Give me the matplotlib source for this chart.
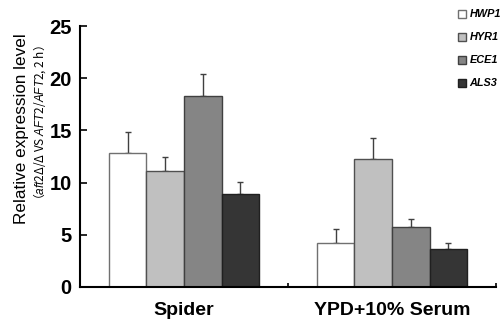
import matplotlib
matplotlib.use("Agg")
import matplotlib.pyplot as plt
import numpy as np

plt.rcParams["font.family"] = ["Liberation Sans", "DejaVu Sans"]
plt.rcParams["mathtext.fontset"] = "custom"
plt.rcParams["mathtext.it"] = "Liberation Sans:italic"
plt.rcParams["mathtext.rm"] = "Noto Sans CJK SC"

conditions = ["Spider", "YPD+10% Serum"]
genes = ["HWP1", "HYR1", "ECE1", "ALS3"]
means = {
    "HWP1": [12.8, 4.2],
    "HYR1": [11.1, 12.25],
    "ECE1": [18.3, 5.75],
    "ALS3": [8.9, 3.65],
}
errs = {
    "HWP1": [2.0, 1.35],
    "HYR1": [1.35, 2.05],
    "ECE1": [2.1, 0.75],
    "ALS3": [1.15, 0.55],
}
colors = {"HWP1": "#ffffff", "HYR1": "#c0c0c0", "ECE1": "#858585", "ALS3": "#353535"}
edges = {"HWP1": "#707070", "HYR1": "#505050", "ECE1": "#404040", "ALS3": "#202020"}

fig = plt.figure(figsize=(5.03, 3.22), dpi=100)
ax = fig.add_axes([80 / 503, 35 / 322, 416 / 503, 261 / 322])

x = np.arange(len(conditions))
width = 0.181
handles = []
for i, g in enumerate(genes):
    pos = x + (i - 1.5) * width
    b = ax.bar(pos, means[g], width, color=colors[g], edgecolor=edges[g], linewidth=1.0,
               label=g, zorder=2)
    ax.errorbar(pos, means[g], yerr=[np.zeros(2), errs[g]], fmt="none", ecolor="#404040",
                elinewidth=1.0, capsize=2.3, capthick=1.0, zorder=1)
    handles.append(b)

ax.set_xlim(-0.5, 1.5)
ax.set_ylim(0, 25)
ax.set_yticks([0, 5, 10, 15, 20, 25])
ax.set_xticks([0.5, 1.5])
ax.set_xticklabels(["", ""])
ax.tick_params(axis="y", direction="in", length=5, width=1.2, labelsize=14.5, pad=6)
ax.tick_params(axis="x", direction="in", length=3, width=1.2)
for lab in ax.get_yticklabels():
    lab.set_fontweight("bold")
for s in ["top", "right"]:
    ax.spines[s].set_visible(False)
for s in ["left", "bottom"]:
    ax.spines[s].set_linewidth(1.5)

for xi, c in zip(x, conditions):
    ax.text(xi, -0.09, c, transform=ax.get_xaxis_transform(), ha="center", va="center",
            fontsize=14, fontweight="bold")

fig.text(22 / 503, 1 - 129 / 322, "Relative expression level", rotation=90,
         ha="center", va="center", fontsize=12.3)
fig.text(40 / 503, 1 - 126 / 322, r"（$\it{aft2}$Δ/Δ VS $\it{AFT2/AFT2}$, 2 h）", rotation=90,
         ha="center", va="center", fontsize=8.5, family="Noto Sans CJK SC")

fig.legend(handles, genes, loc="upper left", bbox_to_anchor=(454 / 503, 1 - 5 / 322),
           frameon=False, handlelength=0.75, handleheight=0.75, handletextpad=0.3,
           labelspacing=1.2, borderaxespad=0,
           prop={"style": "italic", "weight": "bold", "size": 7.8})

fig.savefig("out.png", dpi=100)
